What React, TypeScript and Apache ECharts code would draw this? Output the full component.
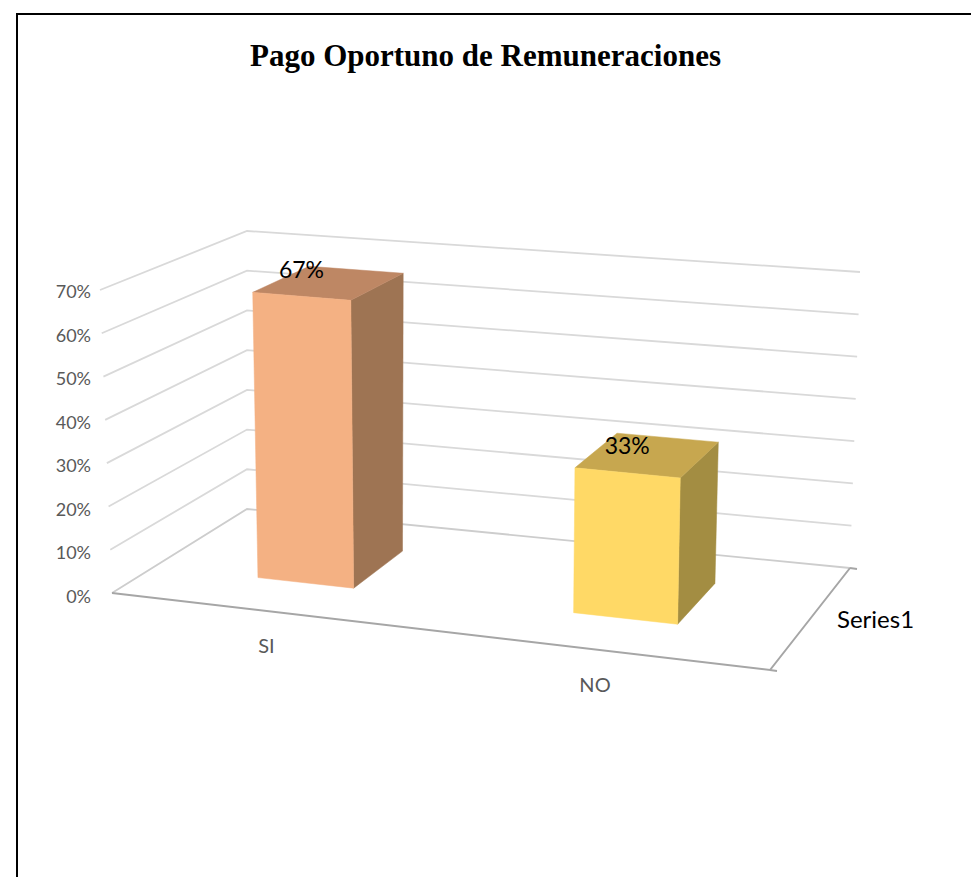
import React, { useEffect, useRef } from "react";
import * as echarts from "echarts";

const TITLE = "Pago Oportuno de Remuneraciones";
const CATEGORIES = ["SI", "NO"];
const VALUES = [0.67, 0.33];
const SERIES_NAME = "Series1";
const Y_TICKS = [0, 0.1, 0.2, 0.3, 0.4, 0.5, 0.6, 0.7];
const Y_MAX = 0.7;

// 3D box layout (screen px): floor and 70% level corners
const FL = [112, 593];
const FR = [770, 670];
const BL = [247, 509];
const BR = [850, 568];
const FTL = [100, 290];
const FTR = [778, 348];
const BTL = [247, 231];
const BTR = [860, 272];
const PERSP = -0.08;
const BAR_FRONT = 0.32;
const BAR_BACK = 0.734;
const BAR_HALF = 0.156;

const FACE_COLORS = [
  { front: "#F4B183", top: "#BE8764", side: "#9E7453" },
  { front: "#FFD966", top: "#C7A74F", side: "#A38D42" },
];

const FONT = "Lato, 'Open Sans', sans-serif";

function lerp(a: number[], b: number[], s: number) {
  return [a[0] + (b[0] - a[0]) * s, a[1] + (b[1] - a[1]) * s];
}

function proj(xn: number, t: number, z: number) {
  const u = (xn * (1 + PERSP)) / (1 + PERSP * xn);
  const floorF = lerp(FL, FR, u);
  const floorB = lerp(BL, BR, u);
  const topF = lerp(FTL, FTR, u);
  const topB = lerp(BTL, BTR, u);
  const f = lerp(floorF, floorB, z);
  const tp = lerp(topF, topB, z);
  return lerp(f, tp, t);
}

function valueFrac(api: any, v: number) {
  const y0 = api.coord([0, 0])[1];
  const yT = api.coord([0, Y_MAX])[1];
  return (y0 - api.coord([0, v])[1]) / (y0 - yT);
}

export default function App() {
  const ref = useRef<HTMLDivElement>(null);
  useEffect(() => {
    if (!ref.current) return;
    const chart = echarts.init(ref.current, undefined, { renderer: "svg" });
    chart.setOption({
      animation: false,
      backgroundColor: "#fff",
      title: {
        text: TITLE,
        left: "center",
        top: 35,
        textStyle: {
          fontFamily: "'Liberation Serif', 'Times New Roman', serif",
          fontWeight: "bold",
          fontSize: 31,
          color: "#000",
        },
      },
      graphic: [
        {
          type: "rect",
          shape: { x: 17, y: 14, width: 1000, height: 1000 },
          style: { fill: "none", stroke: "#000", lineWidth: 2 },
          silent: true,
        },
      ],
      grid: { left: 100, top: 291, width: 700, height: 305 },
      xAxis: { type: "category", data: CATEGORIES, show: false },
      yAxis: {
        type: "value",
        min: 0,
        max: Y_MAX,
        interval: 0.1,
        axisLine: { show: false },
        axisTick: { show: false },
        splitLine: { show: false },
        axisLabel: {
          margin: 9,
          color: "#595959",
          fontSize: 18,
          fontFamily: FONT,
          formatter: (v: number) => Math.round(v * 100) + "%",
        },
      },
      series: [
        {
          type: "custom",
          name: "walls",
          clip: false,
          silent: true,
          data: Y_TICKS.map((v) => [0, v]),
          renderItem: (params: any, api: any) => {
            const v = api.value(1);
            const t = valueFrac(api, v);
            const pF = proj(0, t, 0);
            const pBL = proj(0, t, 1);
            const pBR = proj(1, t, 1);
            const children: any[] = [
              {
                type: "polyline",
                shape: { points: [pF, pBL, pBR] },
                style: { fill: "none", stroke: v === 0 ? "#CDCDCD" : "#D9D9D9", lineWidth: 1.8 },
              },
            ];
            if (params.dataIndex === 0) {
              const f0 = proj(0, 0, 0);
              const f1 = proj(1, 0, 0);
              const b1 = proj(1, 0, 1);
              children.push({
                type: "polyline",
                shape: { points: [f0, f1, b1] },
                style: { fill: "none", stroke: "#A6A6A6", lineWidth: 2 },
              });
              children.push({
                type: "line",
                shape: { x1: f1[0], y1: f1[1], x2: f1[0] + 7, y2: f1[1] + 1 },
                style: { stroke: "#A6A6A6", lineWidth: 2 },
              });
              children.push({
                type: "line",
                shape: { x1: b1[0], y1: b1[1], x2: b1[0] + 7, y2: b1[1] + 1 },
                style: { stroke: "#A6A6A6", lineWidth: 2 },
              });
              const mid = proj(1, 0, 0.5);
              children.push({
                type: "text",
                x: mid[0] + 27,
                y: mid[1] - 1,
                style: {
                  text: SERIES_NAME,
                  fill: "#000",
                  fontSize: 24,
                  fontFamily: FONT,
                  align: "left",
                  verticalAlign: "middle",
                },
              });
            }
            return { type: "group", children };
          },
        },
        {
          type: "custom",
          name: SERIES_NAME,
          clip: false,
          data: VALUES.map((v, i) => [i, v]),
          renderItem: (params: any, api: any) => {
            const i = api.value(0);
            const v = api.value(1);
            const cs = params.coordSys;
            const cx = api.coord([i, 0])[0];
            const xn = (cx - cs.x) / cs.width;
            const hw = (api.size([1, 0])[0] * BAR_HALF) / cs.width;
            const x0 = xn - hw;
            const x1 = xn + hw;
            const t = valueFrac(api, v);
            const z0 = BAR_FRONT;
            const z1 = BAR_BACK;
            const c = FACE_COLORS[i % FACE_COLORS.length];
            const front = [proj(x0, 0, z0), proj(x1, 0, z0), proj(x1, t, z0), proj(x0, t, z0)];
            const top = [proj(x0, t, z0), proj(x1, t, z0), proj(x1, t, z1), proj(x0, t, z1)];
            const side = [proj(x1, 0, z0), proj(x1, 0, z1), proj(x1, t, z1), proj(x1, t, z0)];
            const ft = proj(xn, t, z0);
            const cat = proj(xn, 0, 0);
            return {
              type: "group",
              children: [
                { type: "polygon", shape: { points: side }, style: { fill: c.side, stroke: c.side, lineWidth: 0.5 } },
                { type: "polygon", shape: { points: top }, style: { fill: c.top, stroke: c.top, lineWidth: 0.5 } },
                { type: "polygon", shape: { points: front }, style: { fill: c.front, stroke: c.front, lineWidth: 0.5 } },
                {
                  type: "text",
                  x: ft[0],
                  y: ft[1] - 16,
                  style: {
                    text: Math.round(v * 100) + "%",
                    fill: "#000",
                    fontSize: 23,
                    fontFamily: FONT,
                    align: "center",
                    verticalAlign: "bottom",
                  },
                },
                {
                  type: "text",
                  x: cat[0],
                  y: cat[1] + 34,
                  style: {
                    text: CATEGORIES[i],
                    fill: "#595959",
                    fontSize: 20,
                    fontFamily: FONT,
                    align: "center",
                    verticalAlign: "middle",
                  },
                },
              ],
            };
          },
        },
      ],
    });
    return () => chart.dispose();
  }, []);
  return (
    <div
      ref={ref}
      style={{ position: "fixed", left: 0, top: 0, width: 971, height: 877 }}
    />
  );
}
